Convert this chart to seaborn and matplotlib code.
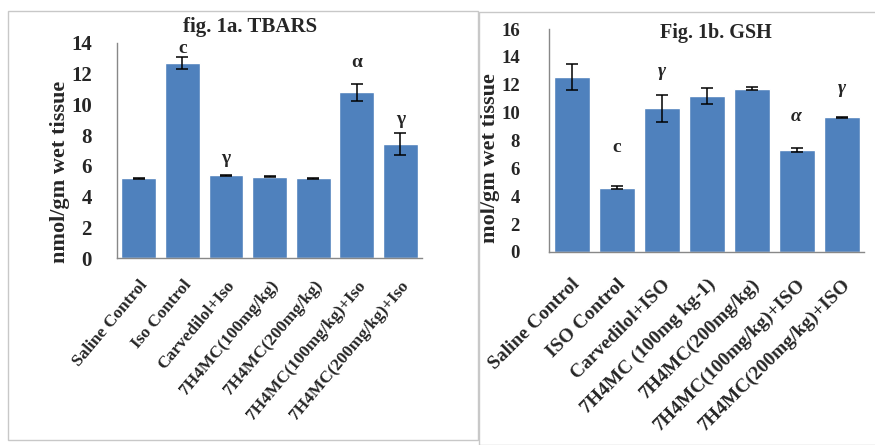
import pandas as pd
import matplotlib
matplotlib.use('Agg')
import matplotlib.pyplot as plt
import seaborn as sns
import numpy as np
from matplotlib.patches import Rectangle

sns.set_style('white')
plt.rcParams['font.family'] = ['Liberation Serif', 'DejaVu Serif']

bar_color = '#4F81BD'

# TBARS data (fig. 1a)
tbars_groups = ['Saline Control', 'Iso Control', 'Carvedilol+Iso', '7H4MC(100mg/kg)',
                '7H4MC(200mg/kg)', '7H4MC(100mg/kg)+Iso', '7H4MC(200mg/kg)+Iso']
tbars_mean = [5.2, 12.7, 5.4, 5.3, 5.2, 10.78, 7.44]
tbars_err = [0.03, 0.39, 0.03, 0.03, 0.03, 0.57, 0.72]
tbars_marks = ['', 'c', 'γ', '', '', 'α', 'γ']
tbars_mark_y = [0, 13.65, 6.5, 0, 0, 12.75, 9.05]

# GSH data (fig. 1b)
gsh_groups = ['Saline Control', 'ISO Control', 'Carvedilol+ISO', '7H4MC (100mg kg-1)',
              '7H4MC(200mg/kg)', '7H4MC(100mg/kg)+ISO', '7H4MC(200mg/kg)+ISO']
gsh_mean = [12.55, 4.62, 10.3, 11.21, 11.71, 7.3, 9.68]
gsh_err = [0.92, 0.1, 0.94, 0.57, 0.1, 0.14, 0.03]
gsh_marks = ['', 'c', 'γ', '', '', 'α', 'γ']
gsh_mark_y = [0, 7.5, 12.95, 0, 0, 9.75, 11.7]

fig = plt.figure(figsize=(8.75, 4.45), dpi=100)

# panel frames
fig.patches.append(Rectangle((8 / 875, 1 - 440 / 445), 470 / 875, 429 / 445,
                             transform=fig.transFigure, fill=False, ec='#c8c8c8', lw=1))
fig.patches.append(Rectangle((479 / 875, 0), 400 / 875, 1 - 12 / 445,
                             transform=fig.transFigure, fill=False, ec='#c8c8c8', lw=1))

ax1 = fig.add_axes([117 / 875, 1 - 258 / 445, 305 / 875, 215 / 445])
ax2 = fig.add_axes([549 / 875, 1 - 252 / 445, 315 / 875, 223 / 445])


def draw_panel(ax, groups, mean, err, marks, mark_y, ymax, ylabel,
               tick_fs, xlab_fs, rot, ypad, xpad, italic_marks):
    df = pd.DataFrame({'group': groups, 'value': mean})
    sns.barplot(data=df, x='group', y='value', color=bar_color, saturation=1,
                width=0.8, errorbar=None, ax=ax)
    ax.errorbar(np.arange(len(groups)), mean, yerr=err, fmt='none', ecolor='black',
                elinewidth=1.1, capsize=4.5, capthick=1.1)
    for i, (m, y) in enumerate(zip(marks, mark_y)):
        if m:
            ax.text(i, y, m, ha='center', va='center', fontsize=14, fontweight='bold',
                    fontstyle='italic' if (italic_marks and m != 'c') else 'normal')
    ax.set_ylim(0, ymax)
    ax.set_xlim(-0.5, len(groups) - 0.5)
    ax.set_yticks(np.arange(0, ymax + 1, 2))
    ax.set_yticklabels([str(v) for v in range(0, ymax + 1, 2)],
                       fontsize=tick_fs, fontweight='bold')
    ax.set_xticks(np.arange(len(groups)))
    ax.set_xticklabels(groups, rotation=rot, ha='right', va='top', rotation_mode='anchor',
                       fontsize=xlab_fs, fontweight='bold')
    ax.set_xticks(np.arange(-0.5, len(groups)), minor=True)
    ax.tick_params(axis='x', which='major', length=0, pad=xpad)
    ax.tick_params(axis='x', which='minor', length=5, direction='out', color='#888888')
    ax.tick_params(axis='y', length=6, direction='out', color='#888888', pad=ypad)
    ax.set_xlabel('')
    ax.set_ylabel(ylabel, fontsize=16, fontweight='bold')
    for s in ['top', 'right']:
        ax.spines[s].set_visible(False)
    for s in ['left', 'bottom']:
        ax.spines[s].set_color('#888888')
        ax.spines[s].set_linewidth(1)


draw_panel(ax1, tbars_groups, tbars_mean, tbars_err, tbars_marks, tbars_mark_y, 14,
           'nmol/gm wet tissue', 15, 12.5, 50, 12, 14, False)
draw_panel(ax2, gsh_groups, gsh_mean, gsh_err, gsh_marks, gsh_mark_y, 16,
           'mol/gm wet tissue', 13.5, 14, 45, 15, 17, True)
ax1.yaxis.set_label_coords((70 - 117) / 305, 0.40)
ax2.yaxis.set_label_coords((500 - 549) / 315, 0.42)

fig.text(250 / 875, 1 - 27 / 445, 'fig. 1a. TBARS', ha='center', va='center',
         fontsize=15, fontweight='bold')
ax2.text(0.53, 0.982, 'Fig. 1b. GSH', transform=ax2.transAxes, ha='center', va='center',
         fontsize=14.5, fontweight='bold')

fig.savefig('out.png', dpi=100)
